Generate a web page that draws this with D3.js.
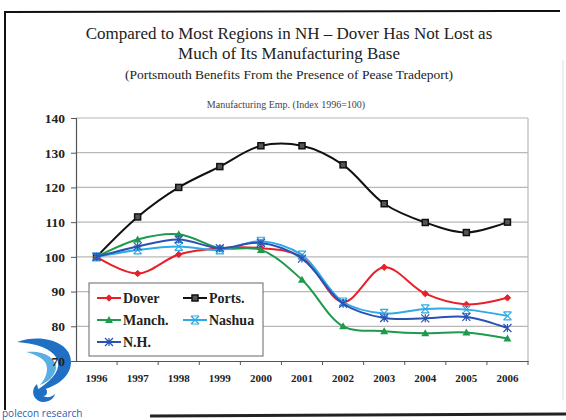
<!DOCTYPE html>
<html>
<head>
<meta charset="utf-8">
<script src="https://cdn.jsdelivr.net/npm/d3@7"></script>
<style>
  body { margin: 0; background: #fff; }
  svg { display: block; }
</style>
</head>
<body>
<script>
const years = ["1996", "1997", "1998", "1999", "2000", "2001", "2002", "2003", "2004", "2005", "2006"];
const dover = [100, 95.2, 100.7, 102.5, 102.5, 100, 87, 97, 89.4, 86.3, 88.2];
const ports = [100, 111.5, 120, 126, 132, 132, 126.5, 115.3, 109.9, 107, 110];
const manch = [100, 105, 106.5, 102.5, 102, 93.4, 80, 78.6, 78, 78.2, 76.5];
const nashua = [100, 102, 103, 102, 104.5, 100.5, 87, 83.7, 85, 84.8, 83];
const nh = [100, 103, 105, 102.5, 104, 99.5, 86.5, 82.4, 82.3, 82.7, 79.5];
const yTicks = [70, 80, 90, 100, 110, 120, 130, 140];

const series = [
  { name: "Dover", values: dover, color: "#e8202a", marker: "diamond" },
  { name: "Ports.", values: ports, color: "#111111", marker: "square" },
  { name: "Manch.", values: manch, color: "#1e9a4c", marker: "triangle" },
  { name: "Nashua", values: nashua, color: "#2eaae6", marker: "star" },
  { name: "N.H.", values: nh, color: "#2a52b4", marker: "asterisk" }
];

const W = 566, H = 420;
const svg = d3.select("body").append("svg").attr("width", W).attr("height", H);
const serif = "'Liberation Serif', 'Times New Roman', serif";

// scanned frame
svg.append("path")
  .attr("d", "M5,410 L5,12 L560,11")
  .attr("fill", "none").attr("stroke", "#111").attr("stroke-width", 2);
svg.append("line").attr("x1", 150).attr("x2", 566).attr("y1", 416).attr("y2", 414)
  .attr("stroke", "#222").attr("stroke-width", 3);
svg.append("line").attr("x1", 563).attr("x2", 563).attr("y1", 60).attr("y2", 400)
  .attr("stroke", "#ddd").attr("stroke-width", 1);

// logo (drawn first so the axis labels sit on top)
const logo = svg.append("g");
logo.append("path")
  .attr("d", "M17,342 C42,333 72,342 71,363 C70,378 55,388 34,392 C50,382 60,372 58,362 C55,350 40,344 17,342Z")
  .attr("fill", "#1f6fc4");
logo.append("path")
  .attr("d", "M26,352 C44,350 56,358 56,368 C55,376 48,382 40,385 C47,377 49,368 45,362 C41,357 34,354 26,352Z")
  .attr("fill", "#5aaee6");
logo.append("circle").attr("cx", 43).attr("cy", 392).attr("r", 4).attr("fill", "#1f6fc4");
logo.append("path").attr("d", "M37,384 C30,390 33,401 43,402 C50,402 54,398 55,394 C50,399 40,400 37,384Z")
  .attr("fill", "#1f6fc4");
logo.append("text").attr("x", 2).attr("y", 417)
  .attr("font-family", "'Open Sans', sans-serif").attr("font-size", 10)
  .attr("fill", "#1f5fb0").text("polecon research");

// titles
const titles = [
  { t: "Compared to Most Regions in NH \u2013 Dover Has Not Lost as", y: 39, s: 17 },
  { t: "Much of Its Manufacturing Base", y: 59, s: 17 },
  { t: "(Portsmouth Benefits From the Presence of Pease Tradeport)", y: 79, s: 13.5 }
];
titles.forEach(d => {
  svg.append("text").attr("x", 289).attr("y", d.y).attr("text-anchor", "middle")
    .attr("font-family", serif).attr("font-size", d.s).attr("fill", "#222").text(d.t);
});
svg.append("text").attr("x", 286).attr("y", 108).attr("text-anchor", "middle")
  .attr("font-family", serif).attr("font-size", 10).attr("fill", "#444")
  .text("Manufacturing Emp. (Index 1996=100)");

// scales
const x = d3.scaleBand().domain(years).range([76, 528]);
const y = d3.scaleLinear().domain([70, 140]).range([361, 118]);
const cx = d => x(d) + x.bandwidth() / 2;

// gridlines
svg.append("g").selectAll("line").data(yTicks.filter(v => v > 70)).join("line")
  .attr("x1", 76).attr("x2", 528)
  .attr("y1", d => y(d)).attr("y2", d => y(d))
  .attr("stroke", "#b8b8b8").attr("stroke-width", 1.2);
svg.append("line").attr("x1", 528).attr("x2", 528).attr("y1", 118).attr("y2", 361)
  .attr("stroke", "#b8b8b8").attr("stroke-width", 1.2);

// axes
const yAxis = svg.append("g").attr("transform", "translate(76,0)")
  .call(d3.axisLeft(y).tickValues(yTicks).tickSize(5).tickPadding(6));
const xAxis = svg.append("g").attr("transform", "translate(0,361)")
  .call(d3.axisBottom(x).tickSize(0).tickPadding(13));
xAxis.selectAll(".tick")
  .append("line").attr("x1", x.bandwidth() / 2).attr("x2", x.bandwidth() / 2)
  .attr("y1", 0).attr("y2", 4).attr("stroke", "#555");
[yAxis, xAxis].forEach(g => {
  g.select(".domain").attr("stroke", "#555").attr("stroke-width", 1.2);
  g.selectAll(".tick line").attr("stroke", "#555");
  g.selectAll("text").attr("font-family", serif).attr("font-weight", "bold").attr("fill", "#222");
});
yAxis.selectAll("text").attr("font-size", 13.5);
xAxis.selectAll("text").attr("font-size", 11);

// marker drawing
function marker(g, type, color, px, py) {
  const s = 3.2;
  if (type === "diamond") {
    g.append("path").attr("d", `M${px},${py - s} L${px + s},${py} L${px},${py + s} L${px - s},${py}Z`)
      .attr("fill", color).attr("stroke", color);
  } else if (type === "square") {
    g.append("rect").attr("x", px - 3).attr("y", py - 3).attr("width", 6).attr("height", 6)
      .attr("fill", "#555").attr("stroke", color).attr("stroke-width", 1.5);
  } else if (type === "triangle") {
    g.append("path").attr("d", `M${px},${py - 4} L${px + 4},${py + 3} L${px - 4},${py + 3}Z`)
      .attr("fill", color);
  } else {
    const p = type === "star"
      ? `M${px - 4},${py - 4} L${px + 4},${py + 4} M${px - 4},${py + 4} L${px + 4},${py - 4} M${px - 4},${py - 4} L${px + 4},${py - 4} M${px - 4},${py + 4} L${px + 4},${py + 4}`
      : `M${px - 4},${py - 4} L${px + 4},${py + 4} M${px - 4},${py + 4} L${px + 4},${py - 4} M${px},${py - 4} L${px},${py + 4}`;
    g.append("path").attr("d", p).attr("stroke", color).attr("stroke-width", 1.2).attr("fill", "none");
  }
}

// lines
const line = d3.line().x((d, i) => cx(years[i])).y(d => y(d)).curve(d3.curveCatmullRom.alpha(0.5));
const drawOrder = [series[1], series[0], series[2], series[3], series[4]];
drawOrder.forEach(s => {
  const g = svg.append("g");
  g.append("path").datum(s.values).attr("d", line)
    .attr("fill", "none").attr("stroke", s.color).attr("stroke-width", 2);
  s.values.forEach((v, i) => marker(g, s.marker, s.color, cx(years[i]), y(v)));
});

// legend
const lg = svg.append("g");
lg.append("rect").attr("x", 89).attr("y", 283).attr("width", 174).attr("height", 73)
  .attr("fill", "#fff").attr("stroke", "#666").attr("stroke-width", 1);
const legPos = [[97, 298], [183, 298], [97, 320], [183, 320], [97, 342]];
series.forEach((s, i) => {
  const [lx, ly] = legPos[i];
  lg.append("line").attr("x1", lx).attr("x2", lx + 24).attr("y1", ly).attr("y2", ly)
    .attr("stroke", s.color).attr("stroke-width", 2);
  marker(lg, s.marker, s.color, lx + 12, ly);
  lg.append("text").attr("x", lx + 26).attr("y", ly + 5)
    .attr("font-family", serif).attr("font-weight", "bold").attr("font-size", 14)
    .attr("fill", "#222").text(s.name);
});
</script>
</body>
</html>
